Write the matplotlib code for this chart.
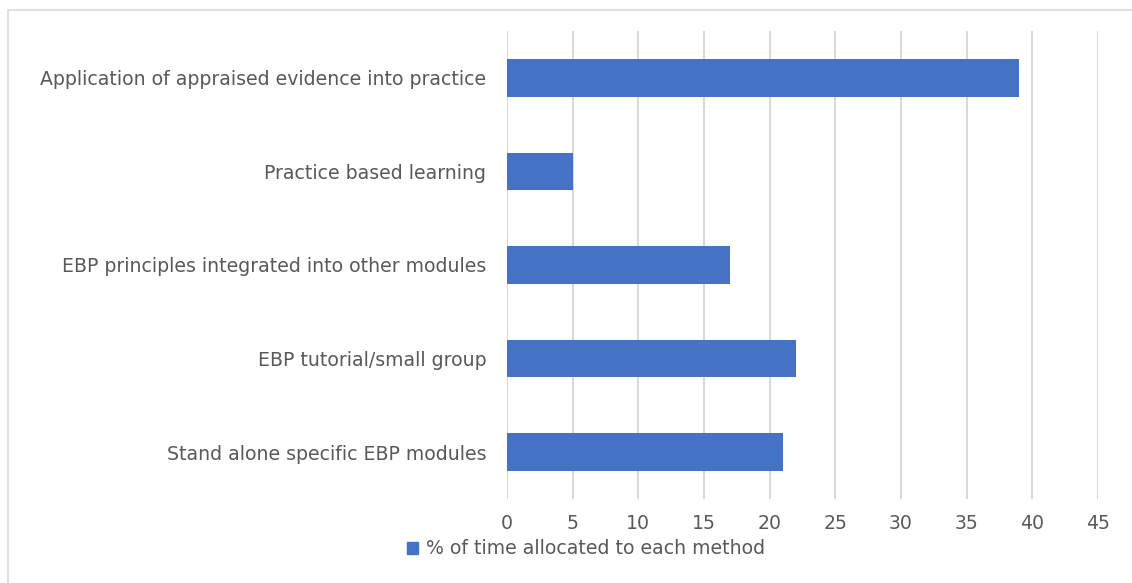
"""
Horizontal bar chart: time allocated to EBP teaching methods.
"""

import matplotlib.pyplot as plt
import matplotlib.patches as mpatches

categories = [
    "Stand alone specific EBP modules",
    "EBP tutorial/small group",
    "EBP principles integrated into other modules",
    "Practice based learning",
    "Application of appraised evidence into practice",
]
values = [21, 22, 17, 5, 39]
series_name = "% of time allocated to each method"
x_ticks = list(range(0, 50, 5))

BAR_COLOR = "#4472C4"
TEXT_COLOR = "#595959"
GRID_COLOR = "#D9D9D9"

plt.rcParams["font.family"] = ["DejaVu Sans"]

W, H = 1132, 583
fig = plt.figure(figsize=(W / 100, H / 100), dpi=100)

# outer chart frame (top and left edges visible)
fig.add_artist(mpatches.Rectangle((8 / W, -0.1), 1.2, 1 - 10 / H + 0.1,
                                  transform=fig.transFigure, fill=False,
                                  edgecolor=GRID_COLOR, linewidth=1.2))

ax = fig.add_axes([507 / W, 1 - 499 / H, (1098 - 507) / W, (499 - 31) / H])
ax.barh(range(len(categories)), values, height=0.4, color=BAR_COLOR, zorder=3)
ax.set_ylim(-0.5, len(categories) - 0.5)
ax.set_xlim(0, 45)
ax.set_xticks(x_ticks)
ax.set_yticks(range(len(categories)))
ax.set_yticklabels(categories)
ax.tick_params(axis="both", length=0, colors=TEXT_COLOR, labelsize=13.6)
ax.tick_params(axis="y", pad=15)
ax.tick_params(axis="x", pad=11)
for s in ax.spines.values():
    s.set_visible(False)
ax.grid(axis="x", color=GRID_COLOR, linewidth=1.5, zorder=0)

handle = mpatches.Patch(color=BAR_COLOR, label=series_name)
fig.legend(handles=[handle], loc="center left", bbox_to_anchor=(407 / W, 1 - 549 / H),
           frameon=False, fontsize=13.6, labelcolor=TEXT_COLOR, borderpad=0,
           borderaxespad=0, handlelength=0.6, handleheight=0.6, handletextpad=0.4)

fig.savefig("out.png", dpi=100)
